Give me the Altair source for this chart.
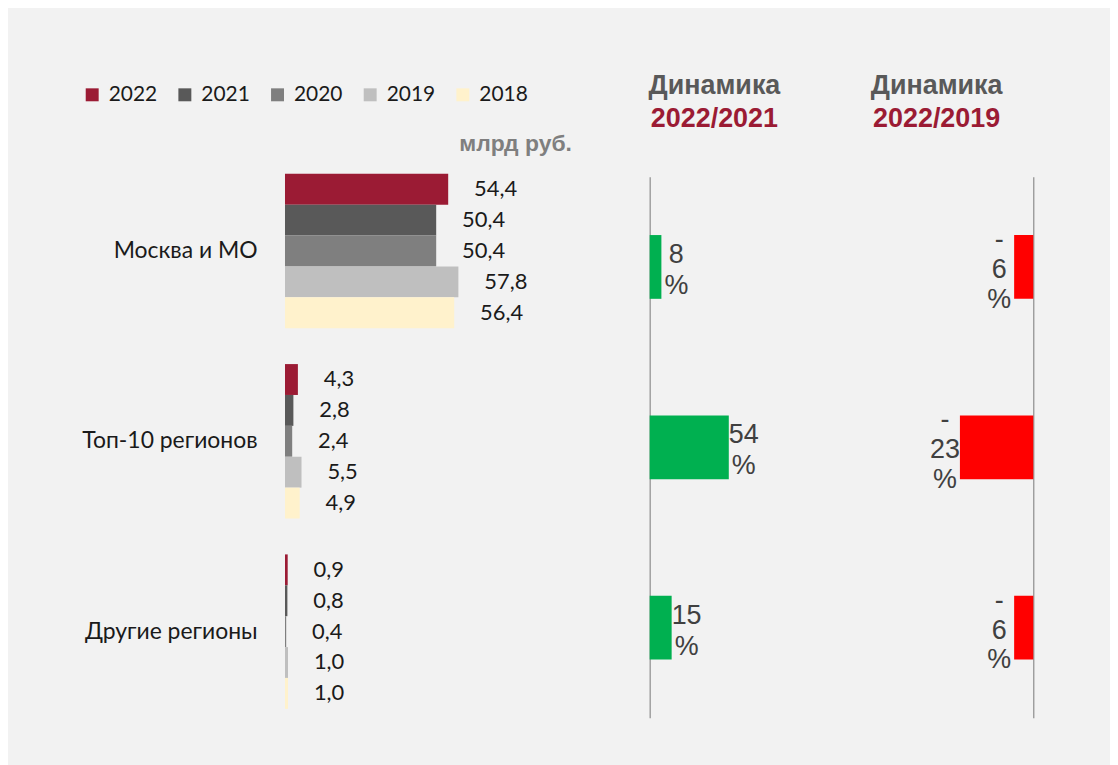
import altair as alt
import pandas as pd

categories = ["Москва и МО", "Топ-10 регионов", "Другие регионы"]
years = ["2022", "2021", "2020", "2019", "2018"]
year_colors = ["#9B1B34", "#595959", "#7F7F7F", "#BFBFBF", "#FFF2CC"]

v2022 = [54.4, 4.3, 0.9]
v2021 = [50.4, 2.8, 0.8]
v2020 = [50.4, 2.4, 0.4]
v2019 = [57.8, 5.5, 1.0]
v2018 = [56.4, 4.9, 1.0]

dyn_2022_2021 = [8, 54, 15]
dyn_2022_2019 = [-6, -23, -6]

series = {"2022": v2022, "2021": v2021, "2020": v2020, "2019": v2019, "2018": v2018}
rows = []
for y in years:
    for c, v in zip(categories, series[y]):
        rows.append({"cat": c, "year": y, "value": v})
df = pd.DataFrame(rows)

df_g = pd.DataFrame({"cat": categories, "v": dyn_2022_2021})
df_r = pd.DataFrame({"cat": categories, "v": dyn_2022_2019})

LABEL_FONT = "Lato, 'Noto Sans', sans-serif"
TITLE_FONT = "'Liberation Sans', Arial, sans-serif"
H = 573

# ---------- left panel ----------
y_left = alt.Y("cat:N", sort=categories,
               scale=alt.Scale(paddingInner=0.1885, paddingOuter=0.0942),
               axis=alt.Axis(title=None, ticks=False, domain=False, labelPadding=28,
                             labelFont=LABEL_FONT, labelFontSize=23, labelColor="#1a1a1a",
                             labelLimit=400))
yoff = alt.YOffset("year:N", sort=years, scale=alt.Scale(paddingInner=0, paddingOuter=0))
x_left = alt.X("value:Q", scale=alt.Scale(domain=[0, 101.3], nice=False), axis=None)

bars = alt.Chart(df).mark_bar().encode(
    x=x_left, y=y_left, yOffset=yoff,
    color=alt.Color("year:N", sort=years,
                    scale=alt.Scale(domain=years, range=year_colors),
                    legend=alt.Legend(orient="none", legendX=-204, legendY=-72,
                                      direction="horizontal", columns=5, title=None,
                                      symbolType="square", symbolSize=169,
                                      symbolStrokeWidth=0, labelFont=LABEL_FONT,
                                      labelFontSize=21, labelColor="#1a1a1a",
                                      labelOffset=6, columnPadding=17)),
)
vals = alt.Chart(df).transform_calculate(
    label="replace(format(datum.value, '.1f'), '.', ',')"
).mark_text(align="left", baseline="middle", dx=26, font=LABEL_FONT,
            fontSize=22, color="#1a1a1a").encode(
    x=x_left, y=alt.Y("cat:N", sort=categories), yOffset=yoff, text="label:N"
)
left = alt.layer(bars, vals).properties(
    width=305, height=H,
    title=alt.TitleParams("млрд руб.", anchor="end", frame="group", dx=-17,
                          font=TITLE_FONT, fontSize=23, fontWeight="bold",
                          color="#7F7F7F", offset=0),
)

# ---------- middle panel ----------
dyn_axis = alt.Axis(title=None, labels=False, ticks=False, domain=True,
                    domainColor="#8C8C8C", domainWidth=1.2, grid=False)
y_mid = alt.Y("cat:N", sort=categories,
              scale=alt.Scale(domain=categories, range=[21, 564],
                              paddingInner=0, paddingOuter=0),
              axis=dyn_axis)
x_mid = alt.X("v:Q", scale=alt.Scale(domain=[0, 88.4], nice=False), axis=None)
gbar = alt.Chart(df_g).mark_bar(size=64, color="#00B050").encode(x=x_mid, y=y_mid)
gtxt = alt.Chart(df_g).transform_calculate(
    label="format(datum.v, 'd') + '\\n%'"
).mark_text(align="center", baseline="middle", dx=15, dy=-12, lineBreak="\n",
            lineHeight=31, font=TITLE_FONT, fontSize=27, color="#404040").encode(
    x=x_mid, y=alt.Y("cat:N", sort=categories), text="label:N")
mid = alt.layer(gbar, gtxt).properties(
    width=130, height=H,
    title=alt.TitleParams("Динамика", subtitle="2022/2021", anchor="middle",
                          frame="group", font=TITLE_FONT, fontSize=27,
                          fontWeight="bold", color="#595959",
                          subtitleFont=TITLE_FONT, subtitleFontSize=27,
                          subtitleFontWeight="bold", subtitleColor="#9B1B34",
                          subtitlePadding=6, offset=23),
)

# ---------- right panel ----------
y_right = alt.Y("cat:N", sort=categories,
                scale=alt.Scale(domain=categories, range=[21, 564],
                                paddingInner=0, paddingOuter=0),
                axis=alt.Axis(orient="right", title=None, labels=False, ticks=False,
                              domain=True, domainColor="#8C8C8C", domainWidth=1.2,
                              grid=False))
x_right = alt.X("v:Q", scale=alt.Scale(domain=[-60.6, 0], nice=False), axis=None)
rbar = alt.Chart(df_r).mark_bar(size=64, color="#FF0000").encode(x=x_right, y=y_right)
rtxt = alt.Chart(df_r).transform_calculate(
    label="'-\\n' + format(abs(datum.v), 'd') + '\\n%'"
).mark_text(align="center", baseline="middle", dx=-15, dy=-27, lineBreak="\n",
            lineHeight=30, font=TITLE_FONT, fontSize=27, color="#404040").encode(
    x=x_right, y=alt.Y("cat:N", sort=categories), text="label:N")
right = alt.layer(rbar, rtxt).properties(
    width=194, height=H,
    title=alt.TitleParams("Динамика", subtitle="2022/2019", anchor="middle",
                          frame="group", font=TITLE_FONT, fontSize=27,
                          fontWeight="bold", color="#595959",
                          subtitleFont=TITLE_FONT, subtitleFontSize=27,
                          subtitleFontWeight="bold", subtitleColor="#9B1B34",
                          subtitlePadding=6, offset=23),
)

chart = alt.hconcat(left, mid, right, spacing=59).resolve_scale(
    y="independent", x="independent"
).configure(
    background="#F2F2F2",
    padding={"left": 73, "top": 63, "right": 77, "bottom": 37},
).configure_view(stroke=None)

chart.save("out.html", embed_options={"renderer": "svg", "actions": False})
